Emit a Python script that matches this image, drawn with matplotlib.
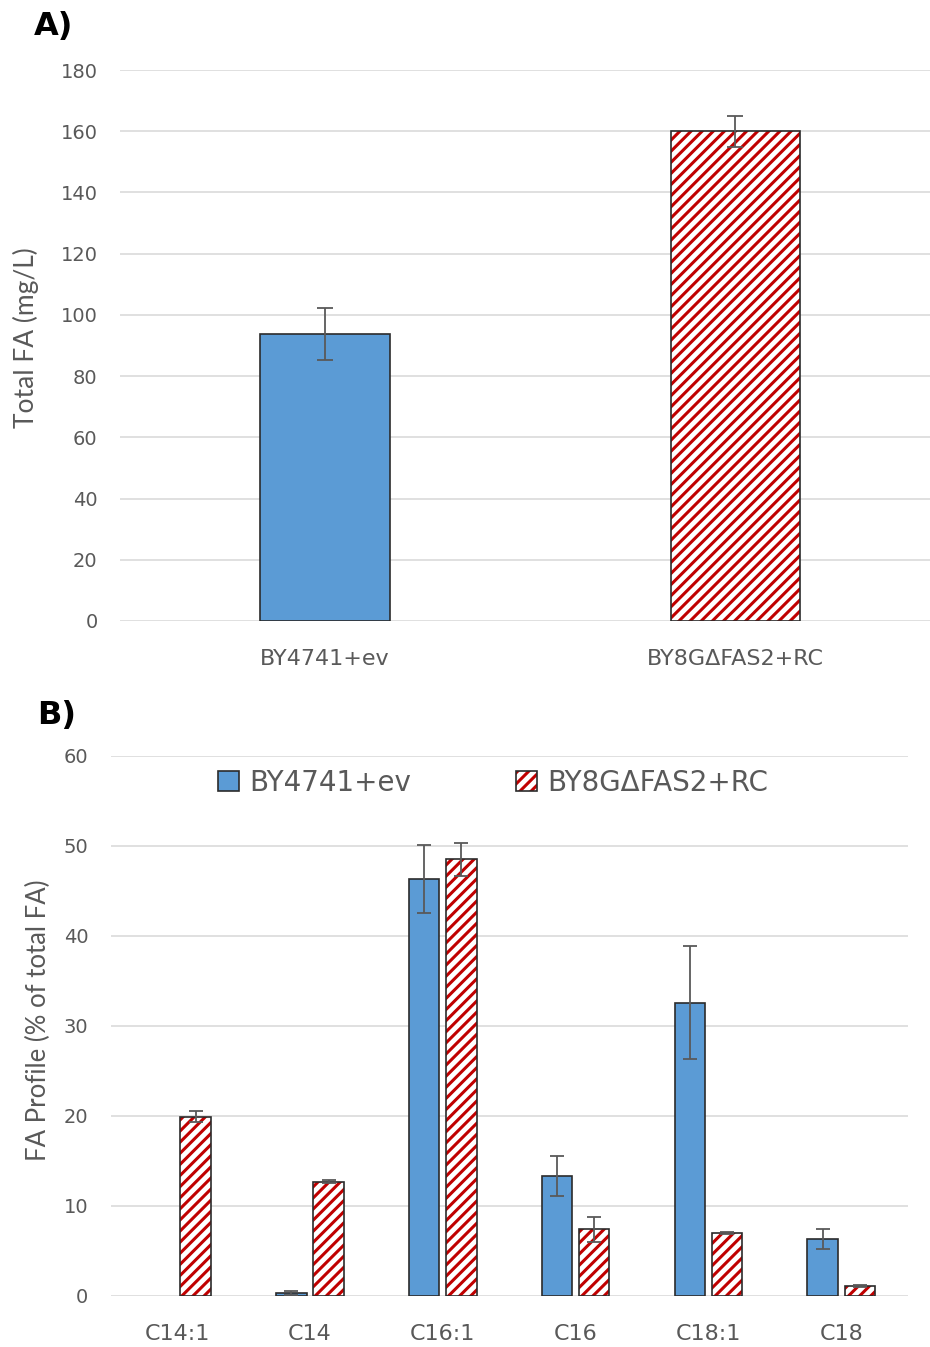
import matplotlib
matplotlib.use("Agg")
import matplotlib.pyplot as plt
import numpy as np
from matplotlib.legend_handler import HandlerTuple

# ---- data ----
strains = ["BY4741+ev", "BY8G\u0394FAS2+RC"]
total_fa = [93.8, 160.0]
total_fa_err = [8.6, 5.0]

fa_species = ["C14:1", "C14", "C16:1", "C16", "C18:1", "C18"]
wt_profile = [0.0, 0.3, 46.3, 13.3, 32.6, 6.3]
wt_err = [0.0, 0.2, 3.8, 2.2, 6.3, 1.1]
rc_profile = [19.9, 12.7, 48.5, 7.4, 7.0, 1.1]
rc_err = [0.6, 0.2, 1.8, 1.4, 0.1, 0.1]

BLUE = "#5B9BD5"
RED = "#C00000"
EDGE = "#2b2b2b"
TXT = "#595959"
GRID = "#DDDDDD"
ERRC = "#595959"
HATCH = "///"

plt.rcParams['hatch.linewidth'] = 2.2
plt.rcParams['font.family'] = ['DejaVu Sans']

fig = plt.figure(figsize=(9.3, 13.47), dpi=100)

def style(ax):
    for s in ax.spines.values():
        s.set_visible(False)
    ax.tick_params(length=0, colors=TXT)
    ax.yaxis.grid(True, color=GRID, lw=1.3)
    ax.set_axisbelow(True)

# ---- panel A ----
axA = fig.add_axes([0.129, 0.539, 0.882, 0.409])
style(axA)
xA = np.arange(len(strains))
wA = 0.315
axA.bar(xA[0], total_fa[0], wA, color=BLUE, edgecolor=EDGE, lw=1.2, zorder=2)
axA.bar(xA[1], total_fa[1], wA, color="white", edgecolor=RED, hatch=HATCH, lw=0, zorder=2)
axA.bar(xA[1], total_fa[1], wA, fill=False, edgecolor=EDGE, lw=1.2, zorder=3)
axA.errorbar(xA, total_fa, yerr=total_fa_err, fmt="none", ecolor=ERRC, elinewidth=1.3,
             capsize=6, capthick=1.3, zorder=4)
axA.set_xlim(-0.5, 1.5)
axA.set_ylim(0, 180)
axA.set_yticks(np.arange(0, 181, 20))
axA.set_xticks(xA)
axA.set_xticklabels(strains, fontsize=16, color=TXT)
axA.tick_params(axis='y', labelsize=14, pad=16)
axA.tick_params(axis='x', pad=20)
axA.set_ylabel("Total FA (mg/L)", fontsize=19, color=TXT, family=['Lato', 'DejaVu Sans'])
axA.yaxis.set_label_coords(-0.099, 0.515)
fig.text(0.036, 0.980, "A)", fontsize=23, fontweight='bold', color='black', va='center')

# ---- panel B ----
axB = fig.add_axes([0.119, 0.0379, 0.857, 0.4009])
style(axB)
xB = np.arange(len(fa_species))
wB = 0.23
off = 0.14
b1 = axB.bar(xB - off, wt_profile, wB, color=BLUE, edgecolor=EDGE,
             lw=[0 if v == 0 else 1.2 for v in wt_profile], zorder=2)
b2 = axB.bar(xB + off, rc_profile, wB, color="white", edgecolor=RED, hatch=HATCH, lw=0, zorder=2)
b3 = axB.bar(xB + off, rc_profile, wB, fill=False, edgecolor=EDGE, lw=1.2, zorder=3)
wt_mask = np.array(wt_err) > 0
axB.errorbar((xB - off)[wt_mask], np.array(wt_profile)[wt_mask], yerr=np.array(wt_err)[wt_mask],
             fmt="none", ecolor=ERRC, elinewidth=1.3, capsize=5, capthick=1.3, zorder=4)
axB.errorbar(xB + off, rc_profile, yerr=rc_err, fmt="none", ecolor=ERRC, elinewidth=1.3,
             capsize=5, capthick=1.3, zorder=4)
axB.set_xlim(-0.5, len(fa_species) - 0.5)
axB.set_ylim(0, 60)
axB.set_yticks(np.arange(0, 61, 10))
axB.set_xticks(xB)
axB.set_xticklabels(fa_species, fontsize=16, color=TXT)
axB.tick_params(axis='y', labelsize=14, pad=16)
axB.tick_params(axis='x', pad=20)
axB.set_ylabel("FA Profile (% of total FA)", fontsize=18.5, color=TXT, family=['Lato', 'DejaVu Sans'])
axB.yaxis.set_label_coords(-0.075, 0.51)
fig.text(0.040, 0.469, "B)", fontsize=23, fontweight='bold', color='black', va='center')

leg = axB.legend([b1[1], (b2[0], b3[0])], strains, loc='center', bbox_to_anchor=(0.48, 0.95),
                 ncol=2, frameon=False, fontsize=20, labelcolor=TXT, columnspacing=3.8,
                 handlelength=0.75, handleheight=0.75, handletextpad=0.35,
                 handler_map={tuple: HandlerTuple(ndivide=1)})

fig.savefig("out.png", dpi=100)
